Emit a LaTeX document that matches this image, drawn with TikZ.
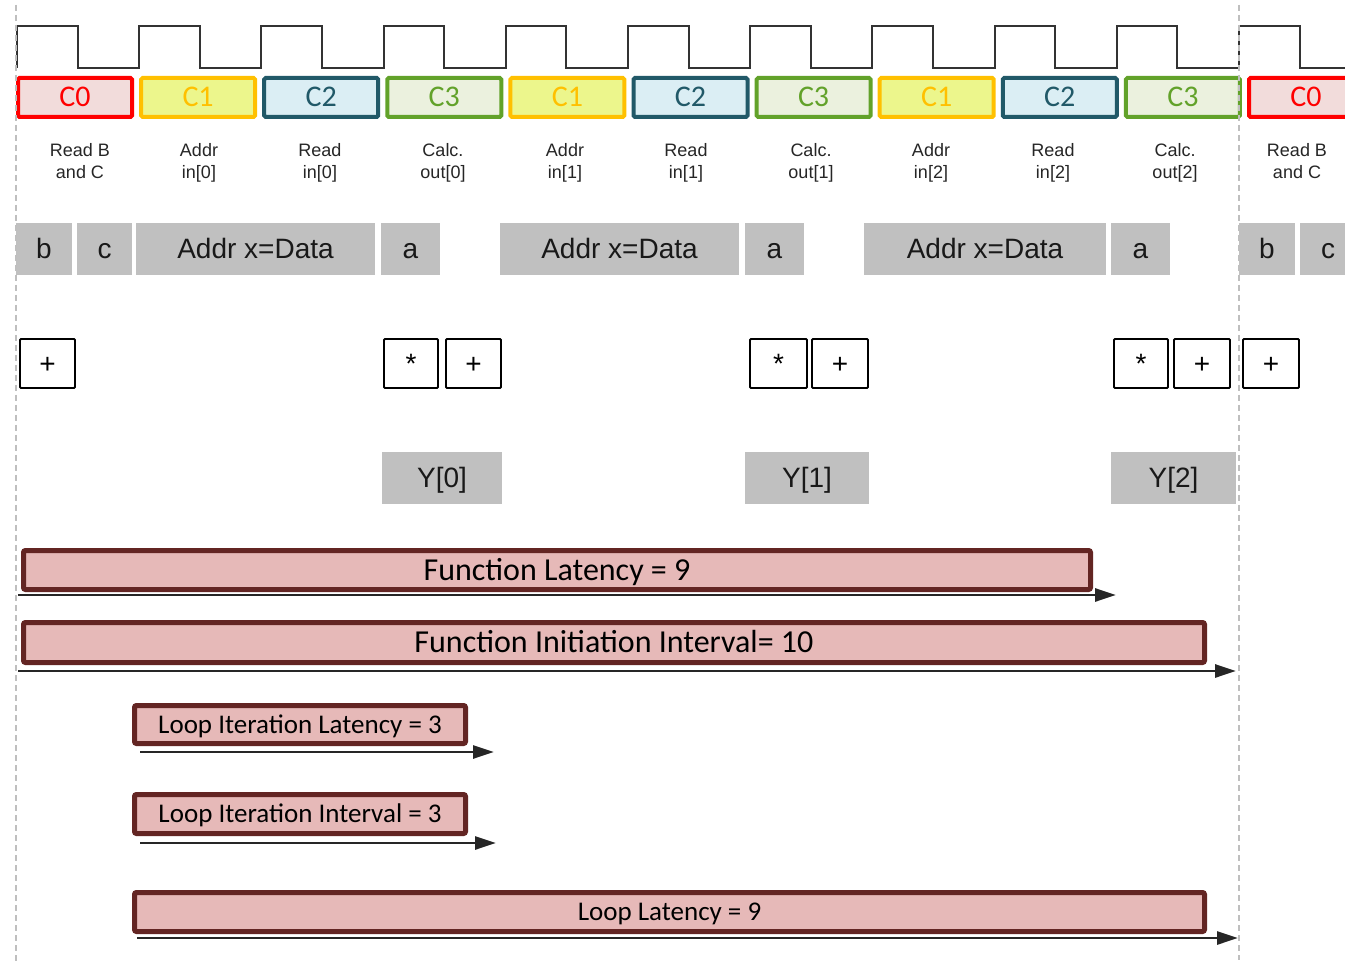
\documentclass[tikz,border=0pt]{standalone}
\usepackage{fontspec}
\setmainfont{Liberation Sans}
\newfontfamily\calfont{Carlito}
\usetikzlibrary{arrows.meta}
\definecolor{czr}{HTML}{FF0000}\definecolor{czf}{HTML}{F2DCDB}
\definecolor{cor}{HTML}{FFC000}\definecolor{cof}{HTML}{ECF68C}
\definecolor{ctr}{HTML}{215968}\definecolor{ctf}{HTML}{DBEEF4}
\definecolor{cgr}{HTML}{62A22A}\definecolor{cgf}{HTML}{EBF1DE}
\definecolor{barf}{HTML}{E6B9B8}\definecolor{bard}{HTML}{632523}
\definecolor{grayf}{HTML}{C0C0C0}
\begin{document}
\begin{tikzpicture}[x=1pt,y=-1pt,
 cbox/.style={draw, line width=4pt, rounded corners=1.5pt, minimum width=114pt, minimum height=39pt, inner sep=0pt, text height=19pt, text depth=0pt, font=\calfont\fontsize{30}{36}\selectfont},
 c0/.style={cbox, draw=czr, fill=czf, text=czr},
 c1/.style={cbox, draw=cor, fill=cof, text=cor},
 c2/.style={cbox, draw=ctr, fill=ctf, text=ctr},
 c3/.style={cbox, draw=cgr, fill=cgf, text=cgr},
 lbl/.style={align=center, font=\fontsize{18}{22}\selectfont, text=black!85, inner sep=0pt},
 gbox/.style={fill=grayf, minimum height=52pt, inner sep=0pt, text height=20pt, text depth=0pt, font=\fontsize{28}{34}\selectfont, text=black!90},
 opbox/.style={draw, line width=1.8pt, fill=white, minimum height=49pt, inner sep=0pt, text height=20pt, text depth=0pt, font=\fontsize{28}{34}\selectfont, rounded corners=1pt},
 bar/.style={draw=bard, fill=barf, line width=5pt, rounded corners=2pt, inner sep=0pt, text depth=0pt},
 bigbar/.style={bar, text height=20.6pt, font=\calfont\fontsize{32}{38}\selectfont},
 smallbar/.style={bar, text height=17.4pt, font=\calfont\fontsize{27}{32}\selectfont},
 arr/.style={line width=2.8pt, draw=black!85, -{Triangle[length=21pt,width=13pt]}},
 dline/.style={draw=black!25, line width=1.5pt, dash pattern=on 6pt off 4pt},
 clk/.style={draw=black!80, line width=2pt}
]
\useasboundingbox (0,0) rectangle (1345,965);
\fill[white] (0,0) rectangle (1345,965);
\clip (0,0) rectangle (1345,965);

% clock waveform
\draw[clk] (17,68) -- (17,26) foreach \k in {0,...,10} { -- ({17+122.2*\k+60.5},26) -- ({17+122.2*\k+60.5},68) -- ({17+122.2*(\k+1)},68) -- ({17+122.2*(\k+1)},26) };

% cycle boxes
\node[c0] (cb0) at (75,97.5) {C0};
\node[c1] (cb1) at ({75+123.1*1},97.5) {C1};
\node[c2] (cb2) at ({75+123.1*2},97.5) {C2};
\node[c3] (cb3) at ({75+123.1*3},97.5) {C3};
\node[c1] (cb4) at ({75+123.1*4},97.5) {C1};
\node[c2] (cb5) at ({75+123.1*5},97.5) {C2};
\node[c3] (cb6) at ({75+123.1*6},97.5) {C3};
\node[c1] (cb7) at ({75+123.1*7},97.5) {C1};
\node[c2] (cb8) at ({75+123.1*8},97.5) {C2};
\node[c3] (cb9) at ({75+123.1*9},97.5) {C3};
\node[c0] (cb10) at ({75+123.1*10},97.5) {C0};

% cycle labels
\node[lbl] (l0) at (80,163.6) {\strut Read B\\\strut and C};
\node[lbl] (l1) at (199,163.6) {\strut Addr\\\strut in[0]};
\node[lbl] (l2) at (320,163.6) {\strut Read\\\strut in[0]};
\node[lbl] (l3) at (443,163.6) {\strut Calc.\\\strut out[0]};
\node[lbl] (l4) at (565,163.6) {\strut Addr\\\strut in[1]};
\node[lbl] (l5) at (686,163.6) {\strut Read\\\strut in[1]};
\node[lbl] (l6) at (811,163.6) {\strut Calc.\\\strut out[1]};
\node[lbl] (l7) at (931,163.6) {\strut Addr\\\strut in[2]};
\node[lbl] (l8) at (1053,163.6) {\strut Read\\\strut in[2]};
\node[lbl] (l9) at (1175,163.6) {\strut Calc.\\\strut out[2]};
\node[lbl] (l10) at (1297,163.6) {\strut Read B\\\strut and C};

% gray data row
\node[gbox, minimum width=56pt] (gb1) at (44,249) {b};
\node[gbox, minimum width=55pt] (gc1) at (104.5,249) {c};
\node[gbox, minimum width=239pt] (ga1) at (255.5,249) {Addr x=Data};
\node[gbox, minimum width=59pt] (gx1) at (410.5,249) {a};
\node[gbox, minimum width=239pt] (ga2) at (619.5,249) {Addr x=Data};
\node[gbox, minimum width=59pt] (gx2) at (774.5,249) {a};
\node[gbox, minimum width=242pt] (ga3) at (985,249) {Addr x=Data};
\node[gbox, minimum width=59pt] (gx3) at (1140.5,249) {a};
\node[gbox, minimum width=56pt] (gb2) at (1267,249) {b};
\node[gbox, minimum width=56pt] (gc2) at (1328,249) {c};

% operator boxes
\node[opbox, minimum width=55pt] (o1) at (47.5,363.5) {+};
\node[opbox, minimum width=54pt] (o2) at (411,363.5) {*};
\node[opbox, minimum width=55pt] (o3) at (473.5,363.5) {+};
\node[opbox, minimum width=57pt] (o4) at (778.5,363.5) {*};
\node[opbox, minimum width=56pt] (o5) at (840,363.5) {+};
\node[opbox, minimum width=54pt] (o6) at (1141,363.5) {*};
\node[opbox, minimum width=56pt] (o7) at (1202,363.5) {+};
\node[opbox, minimum width=56pt] (o8) at (1271,363.5) {+};

% outputs
\node[gbox, minimum width=120pt] (y0) at (442,478) {Y[0]};
\node[gbox, minimum width=124pt] (y1) at (807,478) {Y[1]};
\node[gbox, minimum width=125pt] (y2) at (1173.5,478) {Y[2]};

% dashed separators
\coordinate (dlt) at (16,5); \coordinate (dlb) at (16,965);
\coordinate (drt) at (1239,5); \coordinate (drb) at (1239,960);
\draw[dline] (dlt) -- (dlb);
\draw[dline] (drt) -- (drb);

% latency bars
\node[bigbar, minimum width=1067pt, minimum height=39pt] (fl) at (557,570) {Function Latency = 9};
\node[bigbar, minimum width=1181pt, minimum height=40pt] (fii) at (614,642.5) {Function Initiation Interval= 10};
\node[smallbar, minimum width=331pt, minimum height=38pt] (lil) at (300,724.5) {Loop Iteration Latency = 3};
\node[smallbar, minimum width=331pt, minimum height=39pt] (lii) at (300,814) {Loop Iteration Interval = 3};
\node[smallbar, minimum width=1070pt, minimum height=39pt] (ll) at (669.5,912) {Loop Latency = 9};

% arrows
\coordinate (fla) at (18,595); \coordinate (flb) at (1116,595);
\coordinate (fia) at (18,671); \coordinate (fib) at (1236,671);
\coordinate (lla) at (140,752); \coordinate (llb) at (494,752);
\coordinate (lia) at (140,843); \coordinate (lib) at (496,843);
\coordinate (lta) at (137,938); \coordinate (ltb) at (1238,938);
\draw[arr] (fla) -- (flb);
\draw[arr] (fia) -- (fib);
\draw[arr] (lla) -- (llb);
\draw[arr] (lia) -- (lib);
\draw[arr] (lta) -- (ltb);
\end{tikzpicture}
\end{document}
